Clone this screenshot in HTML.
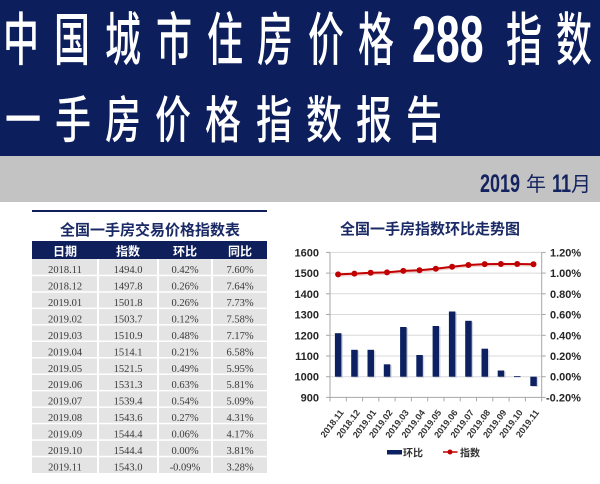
<!DOCTYPE html>
<html><head><meta charset="utf-8"><style>
html,body{margin:0;padding:0;}
body{width:600px;height:484px;position:relative;overflow:hidden;background:#fff;font-family:"Liberation Sans","Noto Sans CJK SC",sans-serif;}
.navy{position:absolute;left:0;top:0;width:600px;height:156px;background:#0c1e5b;}
.gray{position:absolute;left:0;top:156px;width:600px;height:46px;background:#c3c3c3;}
.c{position:absolute;width:60px;text-align:center;font:500 48px/48px "Noto Sans CJK SC","WenQuanYi Zen Hei",sans-serif;color:#fff;transform-origin:50% 0;white-space:nowrap;}
.l1{top:6px;transform:scale(0.75,1.2);}
.l2{top:91px;transform:scale(0.75,1.05);}
.n288{position:absolute;left:412px;top:5.5px;font:700 66px/66px "Liberation Sans",sans-serif;color:#fff;transform:scaleX(0.65);transform-origin:0 0;white-space:nowrap;}
.dnum{position:absolute;top:172px;font:700 25px/25px "Liberation Sans",sans-serif;color:#13235f;transform:scaleX(0.72);transform-origin:0 0;white-space:nowrap;}
.dcj{position:absolute;top:173px;font:400 20px/20px "Noto Sans CJK SC",sans-serif;color:#13235f;white-space:nowrap;}
svg{position:absolute;left:0;top:0;}
</style></head><body>
<div class="navy"></div>
<div class="gray"></div>

<div class="c l1" style="left:-9px">中</div>
<div class="c l1" style="left:42px">国</div>
<div class="c l1" style="left:93px">城</div>
<div class="c l1" style="left:144px">市</div>
<div class="c l1" style="left:195px">住</div>
<div class="c l1" style="left:245px">房</div>
<div class="c l1" style="left:296px">价</div>
<div class="c l1" style="left:346px">格</div>
<div class="n288">288</div>
<div class="c l1" style="left:494px">指</div>
<div class="c l1" style="left:544px">数</div>

<div class="c l2" style="left:-7.5px">一</div>
<div class="c l2" style="left:42.7px">手</div>
<div class="c l2" style="left:93px">房</div>
<div class="c l2" style="left:143px">价</div>
<div class="c l2" style="left:193px">格</div>
<div class="c l2" style="left:243.5px">指</div>
<div class="c l2" style="left:294px">数</div>
<div class="c l2" style="left:344px">报</div>
<div class="c l2" style="left:394px">告</div>

<div class="dnum" style="left:480px">2019</div>
<div class="dcj" style="left:526px">年</div>
<div class="dnum" style="left:552px">11</div>
<div class="dcj" style="left:571px">月</div>

<svg width="600" height="484" viewBox="0 0 600 484" xmlns="http://www.w3.org/2000/svg">
<!-- TABLE -->
<rect x="32" y="210" width="235" height="2" fill="#0e1f5c"/>
<text x="150" y="235" text-anchor="middle" font-family="Liberation Sans, Noto Sans CJK SC, sans-serif" font-size="15" font-weight="700" fill="#1a2a66">全国一手房交易价格指数表</text>
<rect x="32" y="241" width="235" height="18" fill="#0e1f5c"/>
<g font-family="Liberation Sans, Noto Sans CJK SC, sans-serif" font-size="12" font-weight="700" fill="#fff" text-anchor="middle">
<text x="65" y="255.5">日期</text><text x="128" y="255.5">指数</text><text x="185" y="255.5">环比</text><text x="240" y="255.5">同比</text>
</g>
<rect x="32" y="259" width="235" height="214" fill="#e4e4e4"/>
<g fill="#fff">
<rect x="97" y="259" width="2" height="214"/><rect x="157" y="259" width="2" height="214"/><rect x="211" y="259" width="2" height="214"/>
<rect x="32" y="274.7" width="235" height="1.5"/><rect x="32" y="291.2" width="235" height="1.5"/><rect x="32" y="307.6" width="235" height="1.5"/><rect x="32" y="324.1" width="235" height="1.5"/><rect x="32" y="340.5" width="235" height="1.5"/><rect x="32" y="357" width="235" height="1.5"/><rect x="32" y="373.5" width="235" height="1.5"/><rect x="32" y="389.9" width="235" height="1.5"/><rect x="32" y="406.4" width="235" height="1.5"/><rect x="32" y="422.8" width="235" height="1.5"/><rect x="32" y="439.3" width="235" height="1.5"/><rect x="32" y="455.8" width="235" height="1.5"/>
</g>
<g font-family="Liberation Serif, serif" font-size="10.5" fill="#3a3a3a" text-anchor="middle">
<text x="65" y="273">2018.11</text><text x="128" y="273">1494.0</text><text x="185" y="273">0.42%</text><text x="240" y="273">7.60%</text>
<text x="65" y="289.5">2018.12</text><text x="128" y="289.5">1497.8</text><text x="185" y="289.5">0.26%</text><text x="240" y="289.5">7.64%</text>
<text x="65" y="305.9">2019.01</text><text x="128" y="305.9">1501.8</text><text x="185" y="305.9">0.26%</text><text x="240" y="305.9">7.73%</text>
<text x="65" y="322.4">2019.02</text><text x="128" y="322.4">1503.7</text><text x="185" y="322.4">0.12%</text><text x="240" y="322.4">7.58%</text>
<text x="65" y="338.8">2019.03</text><text x="128" y="338.8">1510.9</text><text x="185" y="338.8">0.48%</text><text x="240" y="338.8">7.17%</text>
<text x="65" y="355.3">2019.04</text><text x="128" y="355.3">1514.1</text><text x="185" y="355.3">0.21%</text><text x="240" y="355.3">6.58%</text>
<text x="65" y="371.8">2019.05</text><text x="128" y="371.8">1521.5</text><text x="185" y="371.8">0.49%</text><text x="240" y="371.8">5.95%</text>
<text x="65" y="388.2">2019.06</text><text x="128" y="388.2">1531.3</text><text x="185" y="388.2">0.63%</text><text x="240" y="388.2">5.81%</text>
<text x="65" y="404.7">2019.07</text><text x="128" y="404.7">1539.4</text><text x="185" y="404.7">0.54%</text><text x="240" y="404.7">5.09%</text>
<text x="65" y="421.1">2019.08</text><text x="128" y="421.1">1543.6</text><text x="185" y="421.1">0.27%</text><text x="240" y="421.1">4.31%</text>
<text x="65" y="437.6">2019.09</text><text x="128" y="437.6">1544.4</text><text x="185" y="437.6">0.06%</text><text x="240" y="437.6">4.17%</text>
<text x="65" y="454.1">2019.10</text><text x="128" y="454.1">1544.4</text><text x="185" y="454.1">0.00%</text><text x="240" y="454.1">3.81%</text>
<text x="65" y="470.5">2019.11</text><text x="128" y="470.5">1543.0</text><text x="185" y="470.5">-0.09%</text><text x="240" y="470.5">3.28%</text>
</g>

<!-- CHART -->
<text x="430" y="234" text-anchor="middle" font-family="Liberation Sans, Noto Sans CJK SC, sans-serif" font-size="15" font-weight="700" fill="#1a2a66">全国一手房指数环比走势图</text>
<g stroke="#d9d9d9" stroke-width="1">
<line x1="330" y1="252.4" x2="541.7" y2="252.4"/><line x1="330" y1="273.1" x2="541.7" y2="273.1"/><line x1="330" y1="293.8" x2="541.7" y2="293.8"/><line x1="330" y1="314.5" x2="541.7" y2="314.5"/><line x1="330" y1="335.3" x2="541.7" y2="335.3"/><line x1="330" y1="356" x2="541.7" y2="356"/><line x1="330" y1="376.7" x2="541.7" y2="376.7"/>
</g>
<g stroke="#a6a6a6" stroke-width="1">
<line x1="330" y1="252.4" x2="330" y2="397.4"/><line x1="541.7" y1="252.4" x2="541.7" y2="397.4"/><line x1="330" y1="397.4" x2="541.7" y2="397.4"/>
<line x1="326" y1="252.4" x2="330" y2="252.4"/><line x1="326" y1="273.1" x2="330" y2="273.1"/><line x1="326" y1="293.8" x2="330" y2="293.8"/><line x1="326" y1="314.5" x2="330" y2="314.5"/><line x1="326" y1="335.3" x2="330" y2="335.3"/><line x1="326" y1="356" x2="330" y2="356"/><line x1="326" y1="376.7" x2="330" y2="376.7"/><line x1="326" y1="397.4" x2="330" y2="397.4"/>
<line x1="541.7" y1="252.4" x2="545.7" y2="252.4"/><line x1="541.7" y1="273.1" x2="545.7" y2="273.1"/><line x1="541.7" y1="293.8" x2="545.7" y2="293.8"/><line x1="541.7" y1="314.5" x2="545.7" y2="314.5"/><line x1="541.7" y1="335.3" x2="545.7" y2="335.3"/><line x1="541.7" y1="356" x2="545.7" y2="356"/><line x1="541.7" y1="376.7" x2="545.7" y2="376.7"/><line x1="541.7" y1="397.4" x2="545.7" y2="397.4"/>
<line x1="330" y1="397.4" x2="330" y2="401.4"/><line x1="346.3" y1="397.4" x2="346.3" y2="401.4"/><line x1="362.6" y1="397.4" x2="362.6" y2="401.4"/><line x1="378.8" y1="397.4" x2="378.8" y2="401.4"/><line x1="395.1" y1="397.4" x2="395.1" y2="401.4"/><line x1="411.4" y1="397.4" x2="411.4" y2="401.4"/><line x1="427.7" y1="397.4" x2="427.7" y2="401.4"/><line x1="444" y1="397.4" x2="444" y2="401.4"/><line x1="460.2" y1="397.4" x2="460.2" y2="401.4"/><line x1="476.5" y1="397.4" x2="476.5" y2="401.4"/><line x1="492.8" y1="397.4" x2="492.8" y2="401.4"/><line x1="509.1" y1="397.4" x2="509.1" y2="401.4"/><line x1="525.4" y1="397.4" x2="525.4" y2="401.4"/><line x1="541.7" y1="397.4" x2="541.7" y2="401.4"/>
</g>
<g font-family="Liberation Sans, sans-serif" font-size="11" font-weight="700" fill="#262626">
<g text-anchor="end">
<text x="319" y="256.4">1600</text><text x="319" y="277.1">1500</text><text x="319" y="297.8">1400</text><text x="319" y="318.5">1300</text><text x="319" y="339.3">1200</text><text x="319" y="360">1100</text><text x="319" y="380.7">1000</text><text x="319" y="401.4">900</text>
</g>
<text x="550" y="256.4">1.20%</text><text x="550" y="277.1">1.00%</text><text x="550" y="297.8">0.80%</text><text x="550" y="318.5">0.60%</text><text x="550" y="339.3">0.40%</text><text x="550" y="360">0.20%</text><text x="550" y="380.7">0.00%</text><text x="546" y="401.4">-0.20%</text>
</g>
<!-- bar shadows -->
<g fill="#b8bcc8" opacity="0.6">
<rect x="336.3" y="334.2" width="6.5" height="43.5"/><rect x="352.6" y="350.8" width="6.5" height="26.9"/><rect x="368.9" y="350.8" width="6.5" height="26.9"/><rect x="385.2" y="365.3" width="6.5" height="12.4"/><rect x="401.5" y="328" width="6.5" height="49.7"/><rect x="417.7" y="356" width="6.5" height="21.7"/><rect x="434" y="327" width="6.5" height="50.7"/><rect x="450.3" y="312.5" width="6.5" height="65.2"/><rect x="466.6" y="321.8" width="6.5" height="55.9"/><rect x="482.9" y="349.7" width="6.5" height="28"/><rect x="499.1" y="371.5" width="6.5" height="6.2"/><rect x="531.7" y="377.7" width="6.5" height="9.3"/>
</g>
<g fill="#0d2162">
<rect x="334.9" y="333.2" width="6.5" height="43.5"/><rect x="351.2" y="349.8" width="6.5" height="26.9"/><rect x="367.5" y="349.8" width="6.5" height="26.9"/><rect x="383.8" y="364.3" width="6.5" height="12.4"/><rect x="400.1" y="327" width="6.5" height="49.7"/><rect x="416.3" y="355" width="6.5" height="21.7"/><rect x="432.6" y="326" width="6.5" height="50.7"/><rect x="448.9" y="311.5" width="6.5" height="65.2"/><rect x="465.2" y="320.8" width="6.5" height="55.9"/><rect x="481.5" y="348.7" width="6.5" height="28"/><rect x="497.7" y="370.5" width="6.5" height="6.2"/><rect x="514" y="376.2" width="6.5" height="0.9"/><rect x="530.3" y="376.7" width="6.5" height="9.3"/>
</g>
<polyline fill="none" stroke="#e8b8b8" stroke-width="2" opacity="0.6" points="339.1,275.8 355.4,275 371.7,274.2 388,273.8 404.3,272.3 420.5,271.6 436.8,270.1 453.1,268.1 469.4,266.4 485.7,265.5 501.9,265.4 518.2,265.4 534.5,265.6"/>
<polyline fill="none" stroke="#c00000" stroke-width="2" points="338.1,274.4 354.4,273.6 370.7,272.8 387,272.4 403.3,270.9 419.5,270.2 435.8,268.7 452.1,266.7 468.4,265 484.7,264.1 500.9,264 517.2,264 533.5,264.2"/>
<g fill="#c00000">
<circle cx="338.1" cy="274.4" r="3"/><circle cx="354.4" cy="273.6" r="3"/><circle cx="370.7" cy="272.8" r="3"/><circle cx="387" cy="272.4" r="3"/><circle cx="403.3" cy="270.9" r="3"/><circle cx="419.5" cy="270.2" r="3"/><circle cx="435.8" cy="268.7" r="3"/><circle cx="452.1" cy="266.7" r="3"/><circle cx="468.4" cy="265" r="3"/><circle cx="484.7" cy="264.1" r="3"/><circle cx="500.9" cy="264" r="3"/><circle cx="517.2" cy="264" r="3"/><circle cx="533.5" cy="264.2" r="3"/>
</g>
<g font-family="Liberation Sans, sans-serif" font-size="9" font-weight="700" fill="#333" text-anchor="end">
<text transform="translate(344.1,412.6) rotate(-53)">2018.11</text>
<text transform="translate(360.4,412.6) rotate(-53)">2018.12</text>
<text transform="translate(376.7,412.6) rotate(-53)">2019.01</text>
<text transform="translate(393,412.6) rotate(-53)">2019.02</text>
<text transform="translate(409.3,412.6) rotate(-53)">2019.03</text>
<text transform="translate(425.5,412.6) rotate(-53)">2019.04</text>
<text transform="translate(441.8,412.6) rotate(-53)">2019.05</text>
<text transform="translate(458.1,412.6) rotate(-53)">2019.06</text>
<text transform="translate(474.4,412.6) rotate(-53)">2019.07</text>
<text transform="translate(490.7,412.6) rotate(-53)">2019.08</text>
<text transform="translate(506.9,412.6) rotate(-53)">2019.09</text>
<text transform="translate(523.2,412.6) rotate(-53)">2019.10</text>
<text transform="translate(539.5,412.6) rotate(-53)">2019.11</text>
</g>
<!-- legend -->
<rect x="387" y="450" width="15" height="4.5" fill="#0d2162"/>
<text x="403" y="456.5" font-family="Liberation Sans, Noto Sans CJK SC, sans-serif" font-size="10" font-weight="700" fill="#333">环比</text>
<line x1="443" y1="452" x2="457.5" y2="452" stroke="#c00000" stroke-width="1.5"/>
<circle cx="450" cy="452" r="2.5" fill="#c00000"/>
<text x="460" y="456.5" font-family="Liberation Sans, Noto Sans CJK SC, sans-serif" font-size="10" font-weight="700" fill="#333">指数</text>
</svg>
</body></html>
